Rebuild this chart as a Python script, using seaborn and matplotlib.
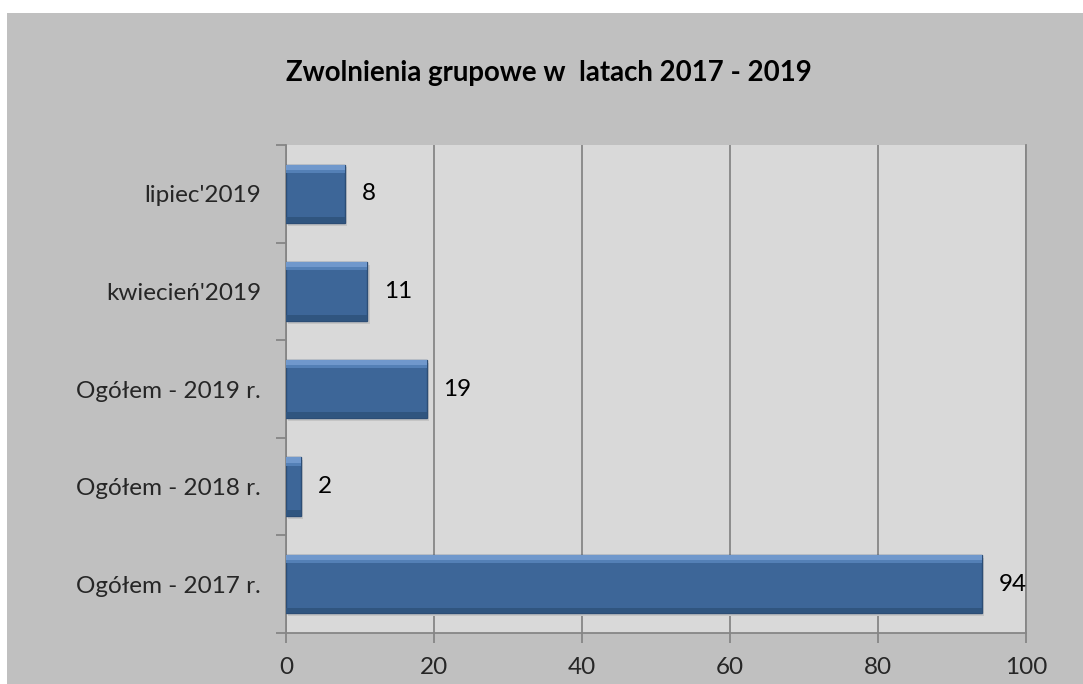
import matplotlib
matplotlib.use("Agg")
import matplotlib.pyplot as plt
import matplotlib.patches as mpatches
from matplotlib.ticker import FixedLocator
import numpy as np
import pandas as pd
import seaborn as sns

# data
categories = ["lipiec'2019", "kwiecień'2019", "Ogółem - 2019 r.", "Ogółem - 2018 r.", "Ogółem - 2017 r."]
values = [8, 11, 19, 2, 94]
x_ticks = [0, 20, 40, 60, 80, 100]
title = "Zwolnienia grupowe w  latach 2017 - 2019"

df = pd.DataFrame({"kategoria": categories, "liczba": values})

sns.set_theme(style="white")
plt.rcParams["font.family"] = ["Lato", "DejaVu Sans"]

fig = plt.figure(figsize=(10.83, 6.84), dpi=100, facecolor="white")
# gray chart area (white strip on top and left like the original)
fig.patches.append(mpatches.Rectangle((7 / 1083, 0), 1, 1 - 13 / 684, transform=fig.transFigure,
                                      facecolor="#c0c0c0", edgecolor="none", zorder=-5))
ax = fig.add_axes([286 / 1083, 1 - 633 / 684, (1026 - 286) / 1083, (633 - 145) / 684])
ax.set_facecolor("#d9d9d9")

sns.barplot(data=df, y="kategoria", x="liczba", orient="h", color="#3d6698",
            width=0.6, edgecolor="#2c4d75", linewidth=1.0, saturation=1, ax=ax, zorder=3)

# simple bevel: light strip on top, dark strip at bottom/right, soft shadow under each bar
for p in ax.patches[:len(values)]:
    x0, y0 = p.get_x(), p.get_y()
    w, h = p.get_width(), p.get_height()
    ax.add_patch(mpatches.Rectangle((x0, y0), w, h * 0.09, facecolor="#7098cc",
                                    edgecolor="none", zorder=4))
    ax.add_patch(mpatches.Rectangle((x0, y0 + h * 0.09), w, h * 0.05, facecolor="#5480b6",
                                    edgecolor="none", zorder=4))
    ax.add_patch(mpatches.Rectangle((x0, y0 + h * 0.9), w, h * 0.1, facecolor="#30557f",
                                    edgecolor="none", zorder=4))
    ax.add_patch(mpatches.Rectangle((x0 + 0.3, y0 + 0.03), w, h, facecolor="#c4c4c4",
                                    edgecolor="none", zorder=2))

for i, v in enumerate(values):
    ax.annotate(str(v), xy=(v, i), xytext=(12, 0), textcoords="offset points",
                va="center", ha="left", fontsize=17.5, color="black")

ax.set_xlim(0, 100)
ax.set_ylim(len(categories) - 0.5, -0.5)
ax.set_xticks(x_ticks)
ax.set_xticklabels([str(t) for t in x_ticks], fontsize=17.5)
ax.xaxis.grid(True, color="#868686", linewidth=1.3, zorder=1)
ax.set_axisbelow(True)
ax.yaxis.set_minor_locator(FixedLocator(np.arange(-0.5, len(categories), 1)))
ax.tick_params(axis="y", which="major", length=0, pad=18, labelsize=17.5)
ax.tick_params(axis="y", which="minor", length=7, width=1.3, color="#868686", left=True)
ax.tick_params(axis="x", which="major", length=7, width=1.3, color="#868686", bottom=True, pad=10)
ax.set_xlabel("")
ax.set_ylabel("")

ax.spines["top"].set_visible(False)
for side in ["left", "bottom", "right"]:
    ax.spines[side].set_color("#868686")
    ax.spines[side].set_linewidth(1.3)

fig.text(549 / 1083, 1 - 73 / 684, title, ha="center", va="center",
         fontsize=19.9, fontweight="bold", color="black")

fig.savefig("out.png", dpi=100, facecolor=fig.get_facecolor())
